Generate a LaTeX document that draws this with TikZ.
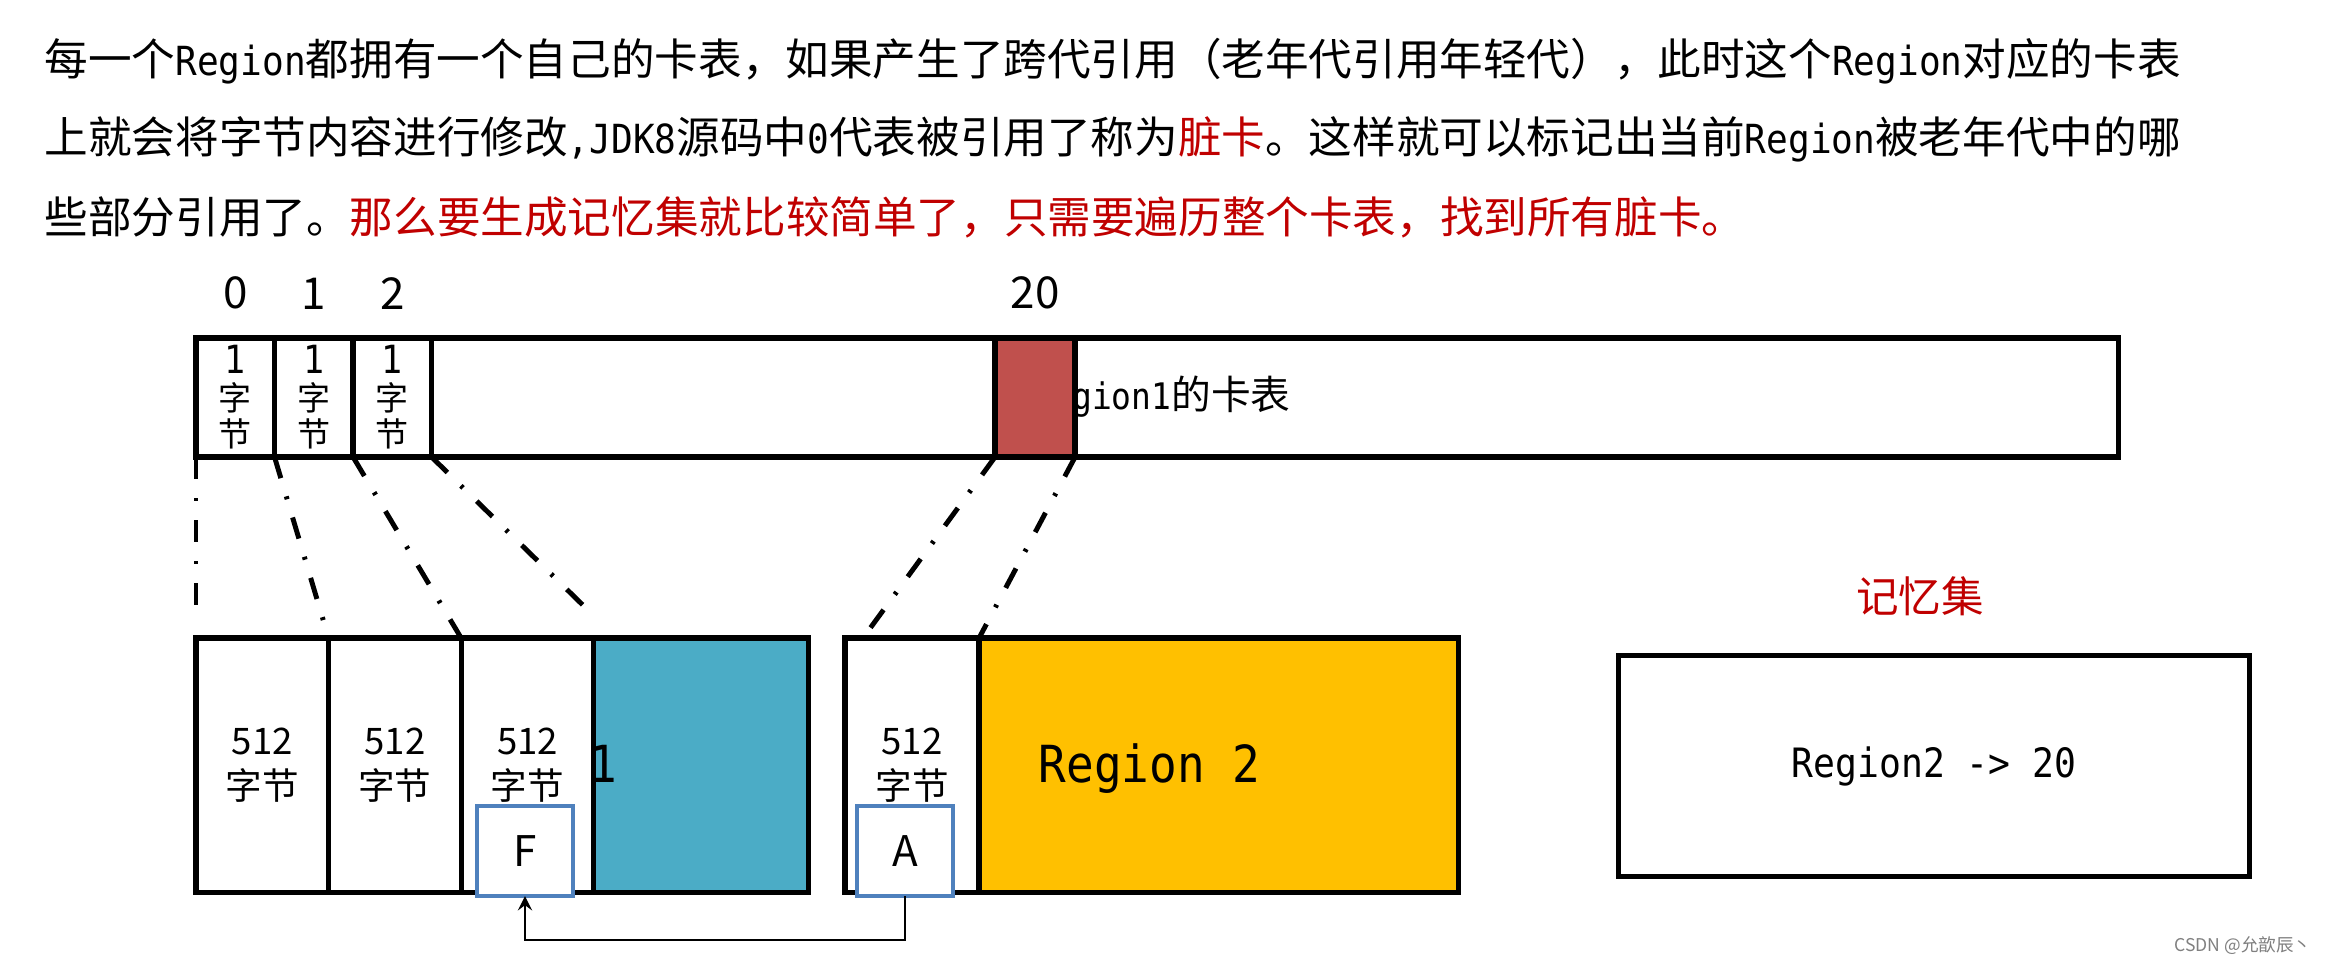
\documentclass[tikz,border=0pt]{standalone}
\usepackage{fontspec}
\setmainfont{Noto Sans CJK SC}
\newfontfamily\monoLat[Scale=0.92, FakeStretch=0.9]{DejaVu Sans Mono}
\usetikzlibrary{positioning}

\begin{document}
\begin{tikzpicture}[x=0.01cm, y=-0.01cm, >=stealth,
    cardcell/.style={draw=borderColour, line width=1.5pt, fill=white, inner sep=0pt, outer sep=0pt,
        anchor=north west, minimum width=0.785cm, minimum height=1.19cm, align=center,
        font=\fontsize{9.4}{10.4}\selectfont},
    pagecell/.style={draw=borderColour, line width=1.5pt, fill=white, inner sep=0pt, outer sep=0pt,
        anchor=north west, minimum width=1.325cm, minimum height=2.54cm, align=center,
        font=\fontsize{10.4}{12.8}\selectfont},
    idxlabel/.style={inner sep=0pt, font=\fontsize{12.5}{14}\selectfont},
    objbox/.style={draw=objColour, line width=1.2pt, fill=white, inner sep=0pt, outer sep=0pt,
        minimum width=0.96cm, minimum height=0.90cm, font=\fontsize{12}{14}\selectfont},
    linkline/.style={line width=1.4pt, dash pattern=on 0.22cm off 0.19cm on 0.03cm off 0.19cm},
    headline/.style={anchor=west, inner sep=0pt, font=\fontsize{12.4}{14}\selectfont}
]
    % Define colours
    \definecolor{borderColour}{HTML}{000000}
    \definecolor{dirtyColour}{HTML}{C0504D}
    \definecolor{regionOneColour}{HTML}{4BACC6}
    \definecolor{regionTwoColour}{HTML}{FFC000}
    \definecolor{objColour}{HTML}{4F81BD}
    \definecolor{noteColour}{HTML}{C00000}

    \useasboundingbox[fill=white] (0,0) rectangle (2325,964);

    % Header text
    \node[headline] (head1) at (44,61) {每一个{\monoLat Region}都拥有一个自己的卡表，如果产生了跨代引用（老年代引用年轻代），此时这个{\monoLat Region}对应的卡表};
    \node[headline] (head2) at (44,139) {上就会将字节内容进行修改{\monoLat ,JDK8}源码中{\monoLat 0}代表被引用了称为\textcolor{noteColour}{脏卡}。这样就可以标记出当前{\monoLat Region}被老年代中的哪};
    \node[headline] (head3) at (44,217) {些部分引用了。\textcolor{noteColour}{那么要生成记忆集就比较简单了，只需要遍历整个卡表，找到所有脏卡。}};

    % Card table of Region1
    \node[cardcell, minimum width=19.21cm] (cardTable) at (196,338) {};
    \node[anchor=west, inner sep=0pt, font=\fontsize{11.3}{13}\selectfont] (tableLabel) at (1032,397) {{\monoLat Region1}的卡表};
    \node[cardcell] (c0) at (196,338) {{\monoLat\large 1}\\字\\节};
    \node[cardcell, right=0pt of c0] (c1) {{\monoLat\large 1}\\字\\节};
    \node[cardcell, right=0pt of c1] (c2) {{\monoLat\large 1}\\字\\节};
    \node[cardcell, fill=dirtyColour, minimum width=0.80cm] (c20) at (995,338) {};

    % Card indices
    \foreach \cellName/\idx in {c0/0, c1/1, c2/2, c20/20}
        \node[idxlabel, above=0.28cm of \cellName] (i\idx) {\idx};

    % Region 1
    \node[pagecell, fill=regionOneColour, minimum width=2.145cm] (regionOne) at (593.5,638) {};
    \node[anchor=base east, inner sep=0pt, font=\fontsize{15.8}{18}\selectfont\monoLat] (regionOneLabel) at (618,782) {1};
    \node[pagecell] (b0) at (196,638) {512\\字节};
    \node[pagecell, right=0pt of b0] (b1) {512\\字节};
    \node[pagecell, right=0pt of b1] (b2) {512\\字节};

    % Region 2
    \node[pagecell, minimum width=1.34cm] (a0) at (845,638) {512\\字节};
    \node[pagecell, fill=regionTwoColour, minimum width=4.79cm] (regionTwo) at (979,638) {};
    \node[anchor=base west, inner sep=0pt, font=\fontsize{15.8}{18}\selectfont\monoLat] (regionTwoLabel) at (1038,782) {Region 2};

    % Objects and the cross reference
    \node[objbox] (F) at (525,851) {F};
    \node[objbox] (A) at (905,851) {A};
    \draw[->, line width=0.8pt] (A.south) -- ++(0,44) -| (F.south);

    % Cards mapped onto the pages
    \coordinate (e0) at (196,615);
    \coordinate (e3) at (593,615);
    \coordinate (e4) at (863,638);
    \draw[linkline] (c0.south west) -- (e0);
    \draw[linkline] (c1.south west) -- (b1.north west);
    \draw[linkline] (c2.south west) -- (b2.north west);
    \draw[linkline] (c2.south east) -- (e3);
    \draw[linkline] (c20.south west) -- (e4);
    \draw[linkline] (c20.south east) -- (a0.north east);

    % Remembered set
    \node[inner sep=0pt, text=noteColour, font=\fontsize{12.1}{14}\selectfont] (rsetTitle) at (1920,596) {记忆集};
    \node[draw=borderColour, line width=1.5pt, inner sep=0pt, minimum width=6.30cm, minimum height=2.21cm,
        font=\fontsize{12.5}{14}\selectfont\monoLat] (rset) at (1934,766) {Region2 -> 20};

    % Watermark
    \node[anchor=east, inner sep=0pt, text=gray, font=\fontsize{5}{6}\selectfont] (mark) at (2312,946) {CSDN @允歆辰丶};
\end{tikzpicture}
\end{document}
